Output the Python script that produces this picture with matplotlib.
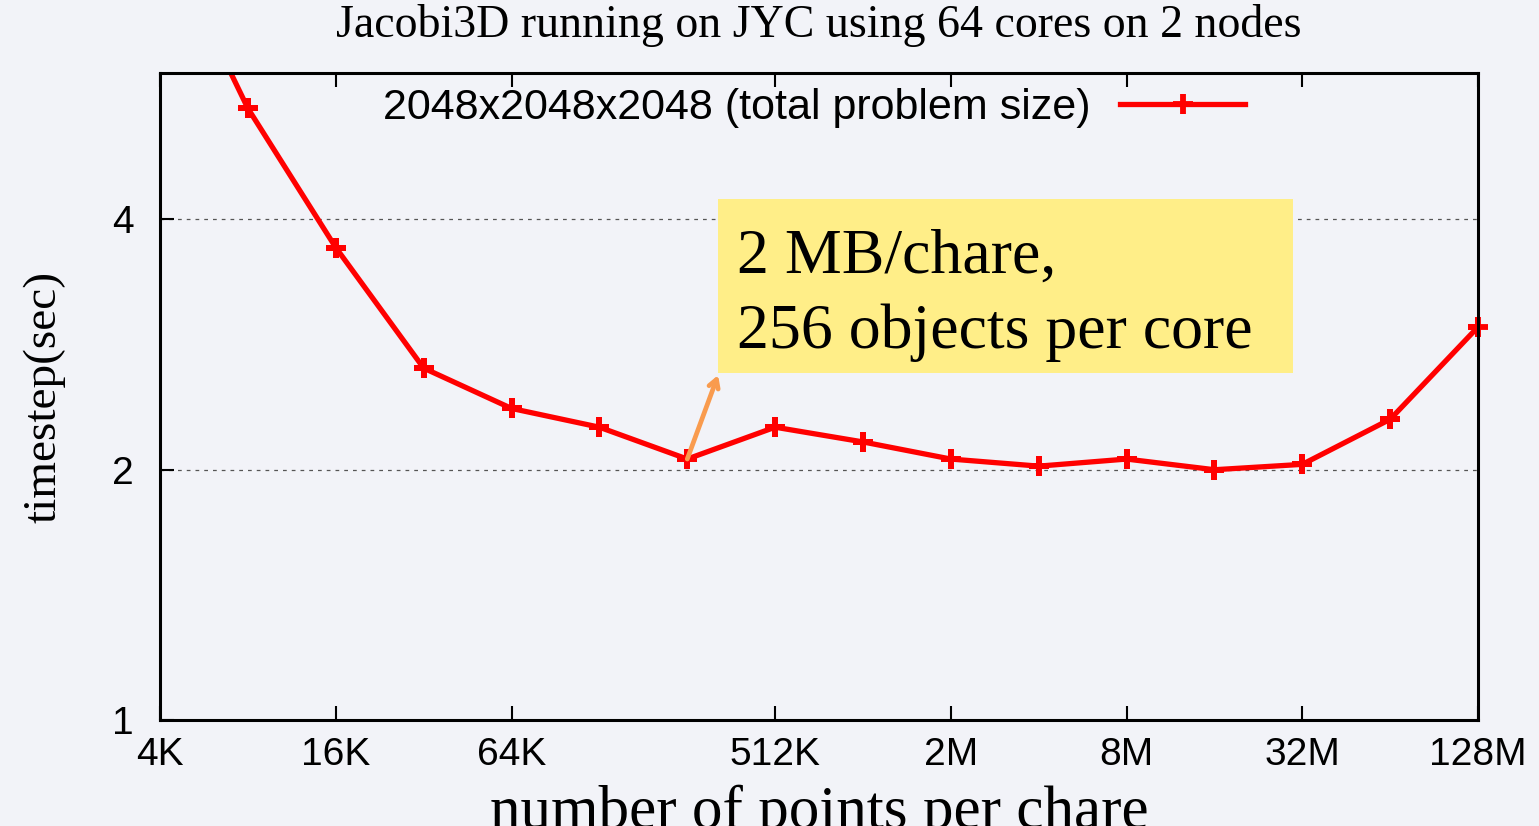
#
# jacobi3d_timestep.py
#
# Timestep of Jacobi3D (2048^3 problem) on JYC, 64 cores / 2 nodes,
# versus the number of grid points per chare.
#

import matplotlib
matplotlib.use('Agg')
import matplotlib.pyplot as plt
from matplotlib.patches import Rectangle
import numpy as np

#
# Data
#
pts_per_chare = np.array([2**12, 2**13, 2**14, 2**15, 2**16, 2**17, 2**18,
                          2**19, 2**20, 2**21, 2**22, 2**23, 2**24, 2**25,
                          2**26, 2**27])
timestep = np.array([9.0, 5.44, 3.70, 2.65, 2.37, 2.25, 2.06, 2.25, 2.16,
                     2.06, 2.02, 2.06, 2.00, 2.03, 2.30, 2.97])

xtick_vals = [2**12, 2**14, 2**16, 2**19, 2**21, 2**23, 2**25, 2**27]
xtick_labs = ['4K', '16K', '64K', '512K', '2M', '8M', '32M', '128M']
ytick_vals = [1, 2, 4]
ytick_labs = ['1', '2', '4']

series_label = '2048x2048x2048 (total problem size)'
note = '2 MB/chare,\n256 objects per core'
note_x = 2**18                     # data point the note points at

bg = '#F2F3F8'
serif = ['Liberation Serif', 'DejaVu Serif']
sans = ['Liberation Sans', 'DejaVu Sans']

fig = plt.figure(figsize=(15.39, 8.26), dpi=100, facecolor=bg)
ax = fig.add_axes([0.104, 0.1283, 0.8564, 0.7833], facecolor=bg)

ymax = 6.0

ax.plot(pts_per_chare, timestep, color='red', lw=3.8, marker='+', ms=15,
        mew=4.2, label=series_label)
# Markers on the frame edge are not clipped (gnuplot style)
inr = timestep <= ymax
ax.plot(pts_per_chare[inr], timestep[inr], ls='none', color='red',
        marker='+', ms=15, mew=4.2, clip_on=False)

ax.set_xscale('log', base=2)
ax.set_yscale('log', base=2)
ax.set_xlim(2**12, 2**27)
ax.set_ylim(1, ymax)

ax.set_xticks(xtick_vals)
ax.set_xticklabels(xtick_labs, family=sans, fontsize=28)
ax.set_yticks(ytick_vals)
ax.set_yticklabels(ytick_labs, family=sans, fontsize=28)
ax.minorticks_off()
ax.tick_params(axis='x', direction='in', top=True, length=10, width=1.5,
               pad=12)
ax.tick_params(axis='y', direction='in', right=False, length=10, width=1.5,
               pad=19)

ax.yaxis.grid(True, ls=(0, (3, 4)), color='#555555', lw=0.9)

for s in ax.spines.values():
    s.set_linewidth(2.2)

ax.set_title('Jacobi3D running on JYC using 64 cores on 2 nodes',
             family=serif, fontsize=33, pad=26)
ax.set_xlabel('number of points per chare', family=serif, fontsize=44)
ax.xaxis.set_label_coords(0.5, -0.1)
ax.set_ylabel('timestep(sec)', family=serif, fontsize=34)
ax.yaxis.set_label_coords(-0.072, 0.5)

leg = ax.legend(loc='center right', bbox_to_anchor=(0.8232, 0.946),
                frameon=False, markerfirst=False, borderpad=0,
                borderaxespad=0, handlelength=2.9, handletextpad=0.7,
                prop={'family': sans, 'size': 31})

#
# Yellow note box with an arrow to the 256K point
#
ax.add_patch(Rectangle((0.4234, 0.5363), 0.4362, 0.269,
                       transform=ax.transAxes, fc='#FFEE88', ec='none',
                       zorder=3))
ax.text(0.4378, 0.657, note, transform=ax.transAxes, family=serif,
        fontsize=46, va='center', ha='left', linespacing=1.38, zorder=4)
ax.annotate('', xy=(0.4234, 0.533), xycoords='axes fraction',
            xytext=(note_x, timestep[pts_per_chare == note_x][0]),
            textcoords='data',
            arrowprops=dict(arrowstyle='->,head_length=0.6,head_width=0.35',
                            color='#F99B4E', lw=3.4, shrinkA=0, shrinkB=0),
            zorder=4)

fig.savefig('out.png', dpi=100, facecolor=bg)
